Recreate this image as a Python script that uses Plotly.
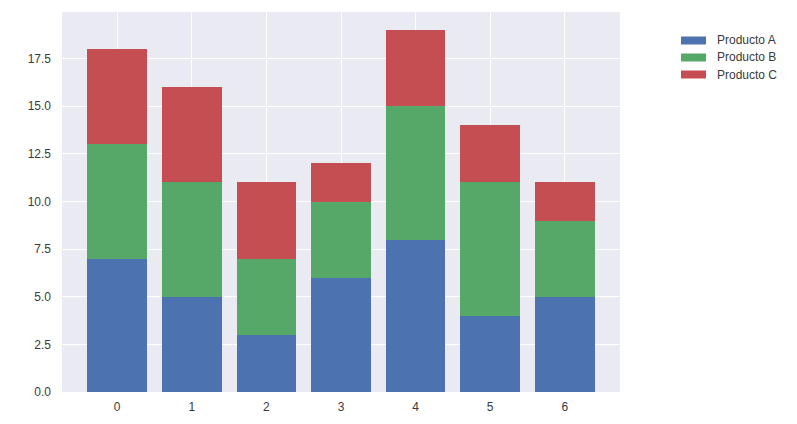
import plotly.graph_objects as go

categories = [0, 1, 2, 3, 4, 5, 6]
producto_a = [7, 5, 3, 6, 8, 4, 5]
producto_b = [6, 6, 4, 4, 7, 7, 4]
producto_c = [5, 5, 4, 2, 4, 3, 2]
series_names = ["Producto A", "Producto B", "Producto C"]
series_values = [producto_a, producto_b, producto_c]
colors = ["#4C72B0", "#55A868", "#C44E52"]
ytick_vals = [0, 2.5, 5, 7.5, 10, 12.5, 15, 17.5]

fig = go.Figure()
for name, vals, col in zip(series_names, series_values, colors):
    fig.add_trace(go.Bar(x=categories, y=vals, name=name, width=0.8,
                         marker=dict(color=col, line=dict(width=0)),
                         showlegend=False))

font = dict(family="Liberation Sans, Arial, sans-serif", size=12, color="#3a3a3a")
legfont = dict(family="Liberation Sans, Arial, sans-serif", size=12, color="#3a3a3a")
OFF = 8  # page body margin
W, H = 797 - OFF, 424 - OFF
# plot area in screenshot coords: x 62..620, y 12..392
L, T = 62 - OFF, 12 - OFF
pw, ph = 620 - 62, 392 - 12
R = W - L - pw
B = H - T - ph
PB = 392  # plot bottom, screenshot coords

shapes, annots = [], []
for i, (name, col) in enumerate(zip(series_names, colors)):
    cy = 40.5 + 17 * i
    shapes.append(dict(type="rect", xref="paper", yref="paper",
                       x0=(681 - 62) / pw, x1=(706 - 62) / pw,
                       y0=(PB - (cy + 4)) / ph, y1=(PB - (cy - 4)) / ph,
                       fillcolor=col, line=dict(width=0)))
    annots.append(dict(xref="paper", yref="paper", x=(715 - 62) / pw, y=(PB - cy) / ph,
                       text=name, showarrow=False, xanchor="left", yanchor="middle",
                       font=legfont))

fig.update_layout(
    barmode="stack",
    width=W, height=H,
    margin=dict(l=L, r=R, t=T, b=B),
    paper_bgcolor="white",
    plot_bgcolor="#EAEAF2",
    font=font,
    shapes=shapes,
    annotations=annots,
    xaxis=dict(range=[-0.74, 6.74], tickvals=categories, ticktext=[str(c) for c in categories],
               showgrid=True, gridcolor="white", gridwidth=1, zeroline=False,
               showline=False, ticks="", ticklabelstandoff=6, tickfont=font),
    yaxis=dict(range=[0, 19.95], tickvals=ytick_vals, tickformat=".1f",
               showgrid=True, gridcolor="white", gridwidth=1, zeroline=False,
               showline=False, ticks="", ticklabelstandoff=10, tickfont=font),
)

fig.write_html("out.html")
